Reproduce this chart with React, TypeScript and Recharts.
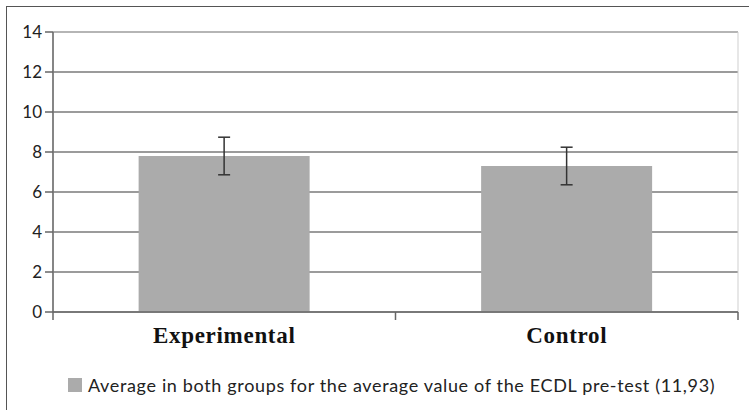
import React from 'react';
import {
  BarChart,
  Bar,
  XAxis,
  YAxis,
  CartesianGrid,
  ErrorBar,
  Legend,
  ReferenceArea,
} from 'recharts';

const categories = ['Experimental', 'Control'];
const averages = [7.8, 7.3];
const errors = [0.94, 0.94];
const yTicks = [0, 2, 4, 6, 8, 10, 12, 14];
const seriesName = 'Average in both groups for the average value of the ECDL pre-test (11,93)';

const data = categories.map((c, i) => ({ name: c, value: averages[i], err: errors[i] }));

const CategoryTick = (props: any) => {
  const { x, y, payload, width, visibleTicksCount, index } = props;
  const half = width / (2 * visibleTicksCount);
  const isLast = index === visibleTicksCount - 1;
  return (
    <g>
      <line x1={x - half} x2={x - half} y1={y} y2={y + 8} stroke="#666" strokeWidth={1.5} />
      {isLast && <line x1={x + half} x2={x + half} y1={y} y2={y + 8} stroke="#666" strokeWidth={1.5} />}
      <text
        x={x}
        y={y}
        dy={31}
        textAnchor="middle"
        fontFamily="'Liberation Serif', 'Times New Roman', serif"
        fontWeight="bold"
        fontSize={23}
        letterSpacing={0.7}
        fill="#111"
      >
        {payload.value}
      </text>
    </g>
  );
};

const LegendContent = (props: any) => {
  const { payload } = props;
  return (
    <div style={{ display: 'flex', flexDirection: 'column' }}>
      {(payload || []).map((p: any, i: number) => (
        <div key={i} style={{ display: 'flex', alignItems: 'center', height: 30 }}>
          <span
            style={{
              display: 'inline-block',
              width: 14,
              height: 14,
              background: p.color,
              marginRight: 6,
            }}
          />
          <span
            style={{
              fontFamily: 'Lato, sans-serif',
              fontSize: 18,
              letterSpacing: 0.65,
              color: '#222',
              whiteSpace: 'nowrap',
            }}
          >
            {p.value}
          </span>
        </div>
      ))}
    </div>
  );
};

export default function App() {
  return (
    <div style={{ position: 'absolute', left: 0, top: 0, width: 749, height: 410, background: '#fff', overflow: 'hidden' }}>
      <div
        style={{
          position: 'absolute',
          left: 6,
          top: 6,
          width: 800,
          height: 500,
          borderTop: '1.5px solid #555',
          borderLeft: '1.5px solid #555',
        }}
      />
      <BarChart
        width={749}
        height={410}
        data={data}
        margin={{ top: 32, right: 11, left: 0, bottom: 10 }}
        barCategoryGap="25%"
      >
        <ReferenceArea y1={0} y2={14} fill="none" stroke="#cfcfcf" strokeWidth={1} ifOverflow="visible" />
        <CartesianGrid vertical={false} stroke="#7a7a7a" strokeWidth={1.5} />
        <XAxis
          dataKey="name"
          tick={<CategoryTick />}
          tickLine={false}
          tickSize={0}
          tickMargin={0}
          axisLine={{ stroke: '#666', strokeWidth: 1.5 }}
          height={58}
          interval={0}
        />
        <YAxis
          domain={[0, 14]}
          ticks={yTicks}
          width={53}
          tickSize={8}
          tickMargin={3}
          axisLine={{ stroke: '#666', strokeWidth: 1.5 }}
          tickLine={{ stroke: '#666', strokeWidth: 1.5 }}
          tick={{ fontFamily: 'Lato, sans-serif', fontSize: 17, fill: '#222' }}
          interval={0}
        />
        <Legend
          verticalAlign="bottom"
          align="left"
          content={<LegendContent />}
          wrapperStyle={{ left: 68 }}
        />
        <Bar dataKey="value" name={seriesName} fill="#ababab" isAnimationActive={false}>
          <ErrorBar dataKey="err" width={6} stroke="#333" strokeWidth={1.5} direction="y" />
        </Bar>
      </BarChart>
    </div>
  );
}
